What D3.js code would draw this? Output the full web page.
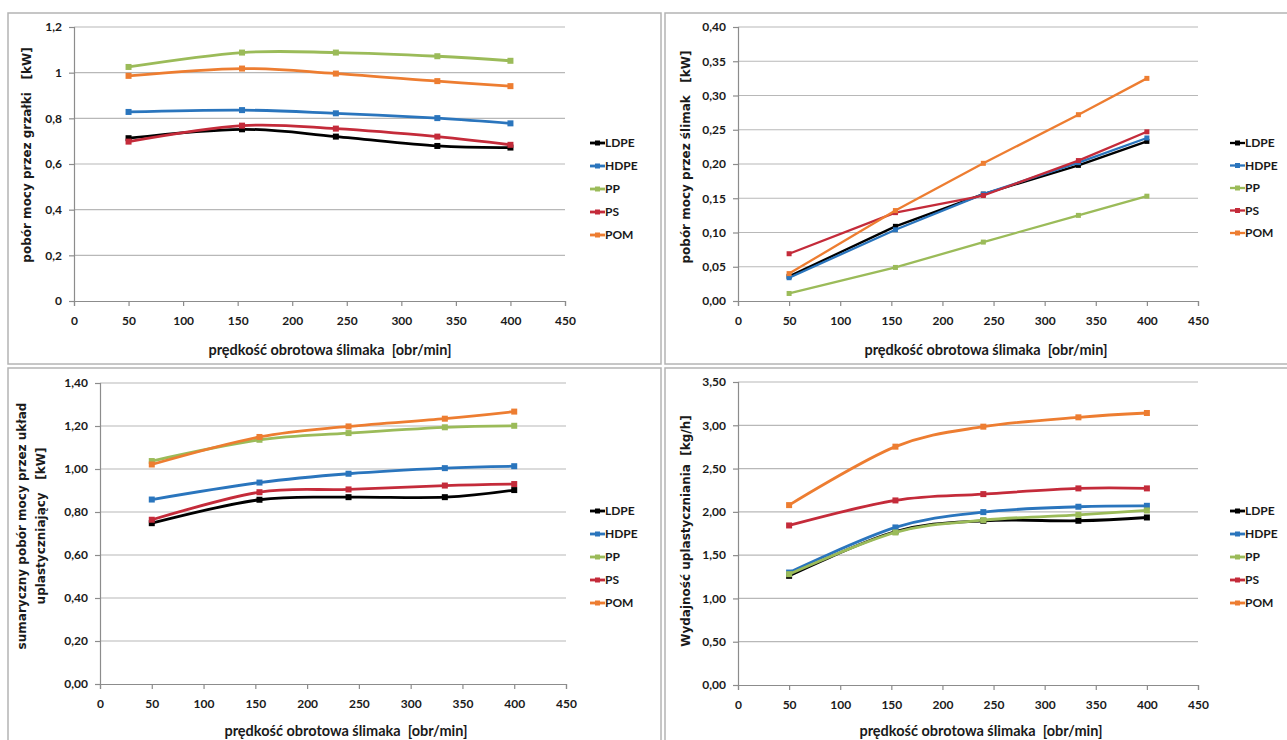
<!DOCTYPE html>
<html><head><meta charset="utf-8">
<script src="https://cdn.jsdelivr.net/npm/d3@7"></script>
<style>
html,body{margin:0;padding:0;background:#fff;}
svg{display:block;}
text{font-family:Lato,"Open Sans",sans-serif;font-weight:bold;fill:#1a1a1a;white-space:pre;}
.ytitle{font-family:"DejaVu Sans",sans-serif;}
</style></head>
<body>
<svg id="c" width="1287" height="740"></svg>
<script>
// ---------- data ----------
const speeds = [50, 154, 240, 333, 400];
const materials = ["LDPE", "HDPE", "PP", "PS", "POM"];
const xTicks = [0, 50, 100, 150, 200, 250, 300, 350, 400, 450];

// Panel A: pobór mocy przez grzałki [kW]
const heaterLDPE = [0.713, 0.752, 0.720, 0.679, 0.672];
const heaterHDPE = [0.828, 0.836, 0.822, 0.801, 0.778];
const heaterPP   = [1.025, 1.088, 1.088, 1.072, 1.052];
const heaterPS   = [0.698, 0.768, 0.755, 0.720, 0.684];
const heaterPOM  = [0.986, 1.018, 0.996, 0.963, 0.941];
const heaterTicks = [0, 0.2, 0.4, 0.6, 0.8, 1.0, 1.2];

// Panel B: pobór mocy przez ślimak [kW]
const screwLDPE = [0.036, 0.109, 0.156, 0.198, 0.233];
const screwHDPE = [0.034, 0.104, 0.156, 0.202, 0.238];
const screwPP   = [0.011, 0.049, 0.086, 0.125, 0.153];
const screwPS   = [0.069, 0.129, 0.154, 0.205, 0.247];
const screwPOM  = [0.040, 0.132, 0.201, 0.272, 0.325];
const screwTicks = [0, 0.05, 0.10, 0.15, 0.20, 0.25, 0.30, 0.35, 0.40];

// Panel C: sumaryczny pobór mocy [kW]
const totalLDPE = [0.748, 0.857, 0.869, 0.869, 0.902];
const totalHDPE = [0.858, 0.937, 0.978, 1.004, 1.013];
const totalPP   = [1.037, 1.136, 1.167, 1.194, 1.201];
const totalPS   = [0.764, 0.892, 0.905, 0.923, 0.930];
const totalPOM  = [1.021, 1.149, 1.198, 1.234, 1.267];
const totalTicks = [0, 0.2, 0.4, 0.6, 0.8, 1.0, 1.2, 1.4];

// Panel D: wydajność uplastyczniania [kg/h]
const outLDPE = [1.261, 1.773, 1.897, 1.897, 1.935];
const outHDPE = [1.299, 1.820, 1.997, 2.059, 2.070];
const outPP   = [1.280, 1.762, 1.904, 1.966, 2.016];
const outPS   = [1.843, 2.132, 2.205, 2.271, 2.271];
const outPOM  = [2.078, 2.753, 2.984, 3.092, 3.142];
const outTicks = [0, 0.5, 1.0, 1.5, 2.0, 2.5, 3.0, 3.5];

const xTitle = "prędkość obrotowa ślimaka  [obr/min]";

// ---------- styles ----------
const colors = {LDPE:"#000000", HDPE:"#2a75bd", PP:"#9bbb59", PS:"#c42b3a", POM:"#ed7d31"};
const comma = f => (v => f(v).replace(".", ","));

const panels = [
  {box:[8,13,653,351], x0:74, x1:565, yTop:27, yBot:301, ticks:heaterTicks,
   fmt:v => String(+v.toFixed(1)).replace(".", ","),
   series:[heaterLDPE,heaterHDPE,heaterPP,heaterPS,heaterPOM],
   ytitle:["pobór mocy przez grzałki   [kW]"], ytx:[27], yty:155,
   xtc:330, xty:355, xly:325, leg:[590,143,23], curve:d3.curveCardinal.tension(0), lw:2.8, ms:6},
  {box:[665,13,640,351], x0:738, x1:1198, yTop:27, yBot:301, ticks:screwTicks,
   fmt:comma(d3.format(".2f")),
   series:[screwLDPE,screwHDPE,screwPP,screwPS,screwPOM],
   ytitle:["pobór mocy przez ślimak   [kW]"], ytx:[686], yty:157,
   xtc:986, xty:355, xly:325, leg:[1230,143,22.5], curve:d3.curveLinear, lw:2.3, ms:5},
  {box:[8,368,653,390], x0:100, x1:566, yTop:383, yBot:684, ticks:totalTicks,
   fmt:comma(d3.format(".2f")),
   series:[totalLDPE,totalHDPE,totalPP,totalPS,totalPOM],
   ytitle:["sumaryczny pobór mocy przez układ","uplastyczniający   [kW]"], ytx:[22,41], yty:526,
   xtc:346, xty:736, xly:704, leg:[590,511,23], curve:d3.curveCardinal.tension(0), lw:2.8, ms:6},
  {box:[665,368,640,390], x0:738, x1:1198, yTop:382, yBot:685, ticks:outTicks,
   fmt:comma(d3.format(".2f")),
   series:[outLDPE,outHDPE,outPP,outPS,outPOM],
   ytitle:["Wydajność uplastyczniania  [kg/h]"], ytx:[686], yty:531,
   xtc:981, xty:736, xly:706, leg:[1230,511,23], curve:d3.curveCardinal.tension(0), lw:2.8, ms:6}
];

const svg = d3.select("#c");

panels.forEach(p => {
  const g = svg.append("g");
  g.append("rect").attr("x",p.box[0]).attr("y",p.box[1]).attr("width",p.box[2]).attr("height",p.box[3])
    .attr("fill","#fff").attr("stroke","#b4b4b4").attr("stroke-width",1.5);

  const x = d3.scaleLinear().domain([0,450]).range([p.x0,p.x1]);
  const y = d3.scaleLinear().domain([0,p.ticks[p.ticks.length-1]]).range([p.yBot,p.yTop]);

  // gridlines
  g.append("g").selectAll("line").data(p.ticks.slice(1)).join("line")
    .attr("x1",p.x0).attr("x2",p.x1).attr("y1",d=>y(d)).attr("y2",d=>y(d))
    .attr("stroke","#b8b8b8").attr("stroke-width",1.2);

  // y axis
  const ya = g.append("g").attr("transform",`translate(${p.x0},0)`)
    .call(d3.axisLeft(y).tickValues(p.ticks).tickFormat(p.fmt).tickSize(5).tickPadding(7));
  ya.select(".domain").attr("stroke","#8c8c8c").attr("stroke-width",1.2);
  ya.selectAll(".tick line").attr("stroke","#8c8c8c").attr("stroke-width",1.2);
  ya.selectAll("text").attr("font-size",12).attr("font-family","Lato").attr("font-weight","bold").attr("fill","#1a1a1a");

  // x axis
  const xa = g.append("g").attr("transform",`translate(0,${p.yBot})`)
    .call(d3.axisBottom(x).tickValues(xTicks).tickSize(5).tickPadding(10));
  xa.select(".domain").attr("stroke","#8c8c8c").attr("stroke-width",1.2);
  xa.selectAll(".tick line").attr("stroke","#8c8c8c").attr("stroke-width",1.2);
  xa.selectAll("text").attr("font-size",12).attr("font-family","Lato").attr("font-weight","bold").attr("fill","#1a1a1a");

  // x title
  g.append("text").attr("x",p.xtc).attr("y",p.xty).attr("text-anchor","middle")
    .attr("font-size",14.5).text(xTitle);

  // y title
  p.ytitle.forEach((t,i) => {
    g.append("text").attr("class","ytitle")
      .attr("transform",`translate(${p.ytx[i]},${p.yty}) rotate(-90)`)
      .attr("text-anchor","middle").attr("dy","0.35em").attr("font-size",12).text(t);
  });

  // series
  const line = d3.line().x(d=>x(d[0])).y(d=>y(d[1])).curve(p.curve);
  materials.forEach((m,i) => {
    const pts = speeds.map((s,j) => [s, p.series[i][j]]);
    g.append("path").datum(pts).attr("d",line).attr("fill","none")
      .attr("stroke",colors[m]).attr("stroke-width",p.lw).attr("stroke-linejoin","round");
    g.append("g").selectAll("rect").data(pts).join("rect")
      .attr("x",d=>x(d[0])-p.ms/2).attr("y",d=>y(d[1])-p.ms/2)
      .attr("width",p.ms).attr("height",p.ms).attr("fill",colors[m]);
  });

  // legend
  materials.forEach((m,i) => {
    const ly = p.leg[1] + i*p.leg[2];
    g.append("line").attr("x1",p.leg[0]).attr("x2",p.leg[0]+15).attr("y1",ly).attr("y2",ly)
      .attr("stroke",colors[m]).attr("stroke-width",p.lw);
    g.append("rect").attr("x",p.leg[0]+7.5-2.5).attr("y",ly-2.5).attr("width",5).attr("height",5).attr("fill",colors[m]);
    g.append("text").attr("x",p.leg[0]+15).attr("y",ly).attr("dy","0.35em")
      .attr("font-size",12).text(m);
  });
});
</script>
</body></html>
